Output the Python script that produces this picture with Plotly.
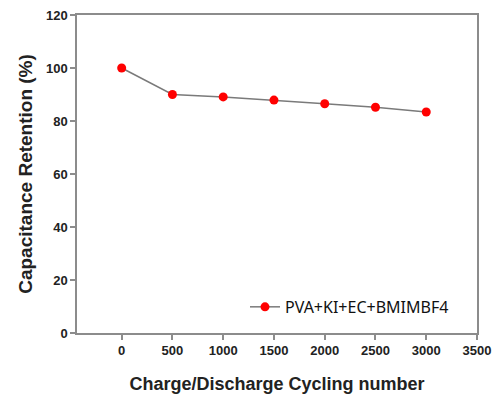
import plotly.graph_objects as go

cycles = [0, 500, 1000, 1500, 2000, 2500, 3000]
retention = [100, 90.0, 89.1, 87.9, 86.5, 85.2, 83.4]
series_name = "PVA+KI+EC+BMIMBF4"
x_ticks = [0, 500, 1000, 1500, 2000, 2500, 3000, 3500]
y_ticks = [0, 20, 40, 60, 80, 100, 120]

fig = go.Figure()
fig.add_trace(go.Scatter(
    x=cycles, y=retention, name=series_name, mode="lines+markers",
    line=dict(color="#7a7a7a", width=1.5),
    marker=dict(color="#ff0000", size=9, line=dict(width=0)),
))

axis_common = dict(
    showline=True, linecolor="#8c8c8c", linewidth=1.5, mirror=True,
    showgrid=False, zeroline=False, ticks="outside", ticklen=5,
    tickcolor="#8c8c8c", tickwidth=1.5, automargin=False,
    tickfont=dict(family="Liberation Sans, Arial", size=13, color="#222", weight="bold"),
)
fig.update_xaxes(
    range=[-440, 3500], tickvals=x_ticks,
    title=dict(text="<b>Charge/Discharge Cycling number</b>",
               font=dict(family="Liberation Sans, Arial", size=18, color="#222"), standoff=20),
    **axis_common,
)
fig.update_yaxes(
    range=[0, 120], tickvals=y_ticks,
    title=dict(text="<b>Capacitance Retention (%)</b>",
               font=dict(family="Liberation Sans, Arial", size=19, color="#222"), standoff=8),
    **axis_common,
)
fig.update_layout(
    width=495, height=399,
    margin=dict(l=77, r=18, t=15, b=66),
    plot_bgcolor="white", paper_bgcolor="white",
    showlegend=True,
    legend=dict(x=0.42, y=0.082, xanchor="left", yanchor="middle",
                bgcolor="rgba(0,0,0,0)",
                font=dict(family="Noto Sans, Open Sans", size=16, color="#111")),
)
fig.write_html("out.html")
